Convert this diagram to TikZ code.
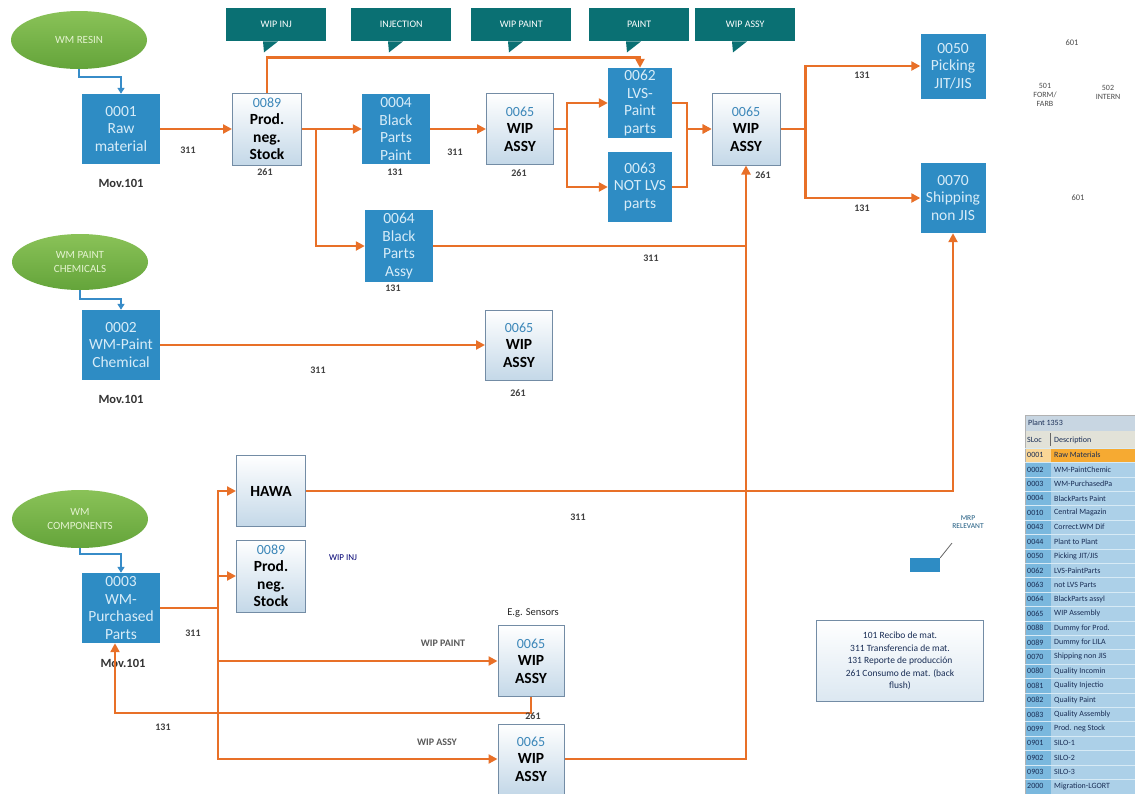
\documentclass[tikz,border=0pt]{standalone}
\usepackage{fontspec}
\setmainfont{Carlito}
\usetikzlibrary{arrows.meta,shapes.geometric}
\definecolor{cbox}{RGB}{46,140,196}
\definecolor{cboxtxt}{RGB}{215,236,248}
\definecolor{cwipline}{RGB}{115,140,165}
\definecolor{cwipfill}{RGB}{196,216,232}
\definecolor{ccode}{RGB}{60,135,185}
\definecolor{cgreen}{RGB}{100,164,58}
\definecolor{cgreenhi}{RGB}{138,194,88}
\definecolor{cwmtxt}{RGB}{228,243,208}
\definecolor{corange}{RGB}{232,112,40}
\definecolor{cfeed}{RGB}{55,140,200}
\definecolor{cteal}{RGB}{10,112,115}
\definecolor{tsloc}{RGB}{122,184,222}
\definecolor{tdesc}{RGB}{172,208,232}
\definecolor{thead}{RGB}{200,214,226}
\definecolor{tcol}{RGB}{226,226,216}
\definecolor{trow}{RGB}{246,170,50}
\definecolor{trowl}{RGB}{250,214,150}
\definecolor{ctxt}{RGB}{25,45,85}
\tikzset{
  dims/.style 2 args={minimum width=#1pt,minimum height=#2pt},
  sloc/.style={rectangle,fill=cbox,text=cboxtxt,align=center,inner sep=0pt,
    font=\fontsize{15.5}{17.5}\selectfont},
  wip/.style={rectangle,draw=cwipline,line width=1pt,top color=white,bottom color=cwipfill,
    align=center,inner sep=0pt,font=\fontsize{15.5}{17.5}\selectfont\bfseries},
  wm/.style={ellipse,top color=cgreenhi,bottom color=cgreen,text=cwmtxt,align=center,
    inner sep=0pt,dims={136}{58},font=\fontsize{11}{14}\selectfont},
  flow/.style={draw=corange,line width=2.4pt,-{Triangle[length=9pt,width=9pt]}},
  link/.style={draw=corange,line width=2.4pt},
  feed/.style={draw=cfeed,line width=1.6pt,-{Triangle[length=6pt,width=7pt]}},
  num/.style={font=\fontsize{10}{11}\selectfont\bfseries,text=black!75},
  mov/.style={font=\fontsize{12.5}{14}\selectfont\bfseries,text=black!80},
  note/.style={font=\fontsize{8.5}{10}\selectfont,text=black!70,align=center},
  callout/.style={fill=cteal,text=white,dims={100}{33},font=\fontsize{10}{12}\selectfont},
  tcell/.style={anchor=west,inner sep=0pt,text=ctxt,font=\fontsize{8}{9}\selectfont}
}
\newcommand{\code}[1]{{\mdseries\color{ccode}\fontsize{14}{15}\selectfont #1}}

\begin{document}
\begin{tikzpicture}[x=1pt,y=-1pt]
  \path[use as bounding box,clip] (0,0) rectangle (1135,793);
  \fill[white] (0,0) rectangle (1135,793);

  % stage callouts
  \foreach \x/\t [count=\i] in {226/WIP INJ,351/INJECTION,471/WIP PAINT,589/PAINT,695/WIP ASSY} {
    \node[callout,anchor=north west] (tag\i) at (\x,8) {\t};
    \fill[cteal] ([xshift=37pt]tag\i.south west) -- ++(15,0) -- ++(-14,11) -- cycle;
  }

  % sources
  \node[wm] (eResin) at (79,40) {WM RESIN};
  \node[wm,dims={136}{56}] (eChem) at (80,262) {WM PAINT\\CHEMICALS};
  \node[wm] (eComp) at (80,519) {WM\\COMPONENTS};

  \node[sloc,dims={78}{70}] (b0001) at (121,129) {0001\\Raw\\material};
  \node[sloc,dims={78}{70}] (b0002) at (121,345) {0002\\WM-Paint\\Chemical};
  \node[sloc,dims={78}{70}] (b0003) at (121,608) {0003\\WM-\\Purchased\\Parts};
  \node[mov] (mov1) at (121,183) {Mov.101};
  \node[mov] (mov2) at (121,399) {Mov.101};
  \node[mov] (mov3) at (123,663) {Mov.101};

  % storage locations
  \node[wip,dims={69}{72}] (w0089) at (267,129) {\code{0089}\\Prod.\\neg.\\Stock};
  \node[sloc,dims={68}{70}] (b0004) at (396,129) {0004\\Black\\Parts\\Paint};
  \node[sloc,dims={68}{72}] (b0064) at (399,246) {0064\\Black\\Parts\\Assy};
  \node[wip,dims={67}{71}] (w0065a) at (520,129) {\code{0065}\\WIP\\ASSY};
  \node[sloc,dims={64}{70}] (b0062) at (640,103) {0062\\LVS-\\Paint\\parts};
  \node[sloc,dims={64}{70}] (b0063) at (640,187) {0063\\NOT LVS\\parts};
  \node[wip,dims={68}{72}] (w0065b) at (746,129) {\code{0065}\\WIP\\ASSY};
  \node[sloc,dims={65}{65}] (b0050) at (953,66) {0050\\Picking\\JIT/JIS};
  \node[sloc,dims={65}{70}] (b0070) at (953,198) {0070\\Shipping\\non JIS};
  \node[wip,dims={67}{70}] (w0065c) at (519,345) {\code{0065}\\WIP\\ASSY};
  \node[wip,dims={69}{71}] (hawa) at (271,491) {HAWA};
  \node[wip,dims={69}{72}] (w0089b) at (271,576) {\code{0089}\\Prod.\\neg.\\Stock};
  \node[wip,dims={66}{71}] (w0065d) at (531,661) {\code{0065}\\WIP\\ASSY};
  \node[wip,dims={66}{70}] (w0065e) at (531,759) {\code{0065}\\WIP\\ASSY};

  % material flow
  \draw[feed] (eResin.south) -- ++(0,8) -| (b0001.north);
  \draw[feed] (eChem.south) -- ++(0,9) -| (b0002.north);
  \draw[feed] (eComp.south) -- ++(0,6) -| (b0003.north);
  \draw[flow] (b0001.east) -- (w0089.west);
  \draw[flow] (w0089.north) -- ++(0,-35) -| (b0062.north);
  \draw[flow] (w0089.east) -- (b0004.west);
  \draw[flow] (w0089.east) -- ++(14,0) |- (b0064.west);
  \draw[flow] (b0004.east) -- (w0065a.west);
  \draw[flow] (w0065a.east) -- ++(13,0) |- (b0062.west);
  \draw[flow] (w0065a.east) -- ++(13,0) |- (b0063.west);
  \draw[flow] (b0062.east) -- ++(15,0) |- (w0065b.west);
  \draw[flow] (b0063.east) -- ++(15,0) |- (w0065b.west);
  \draw[flow] (w0065b.east) -- ++(25,0) |- (b0050.west);
  \draw[flow] (w0065b.east) -- ++(25,0) |- (b0070.west);
  \draw[link] (b0064.east) -- (b0064.east -| w0065b.south);
  \draw[flow] (b0002.east) -- (w0065c.west);
  \draw[flow] (hawa.east) -| (b0070.south);
  \draw[flow] (b0003.east) -- ++(58,0) |- (hawa.west);
  \draw[flow] (b0003.east) -- ++(58,0) |- (w0089b.west);
  \draw[flow] (b0003.east) -- ++(58,0) |- (w0065d.west);
  \draw[flow] (b0003.east) -- ++(58,0) |- (w0065e.west);
  \draw[flow] (w0065d.south) -- ++(0,16) -| ([xshift=-6pt]b0003.south);
  \draw[flow] (w0065e.east) -| (w0065b.south);

  % movement types
  \node[num] (m1) at (188,150) {311};
  \node[num] (m2) at (265,172) {261};
  \node[num] (m3) at (395,172) {131};
  \node[num] (m4) at (455,152) {311};
  \node[num] (m5) at (519,173) {261};
  \node[num] (m6) at (763,175) {261};
  \node[num] (m7) at (393,288) {131};
  \node[num] (m8) at (651,258) {311};
  \node[num] (m9) at (862,75) {131};
  \node[num] (m10) at (862,208) {131};
  \node[num] (m11) at (318,370) {311};
  \node[num] (m12) at (518,393) {261};
  \node[num] (m13) at (578,517) {311};
  \node[num] (m14) at (193,633) {311};
  \node[num] (m15) at (163,727) {131};
  \node[num] (m16) at (533,716) {261};
  \node[note,font=\fontsize{9}{10}\selectfont,text=black!55!blue] (wipinj) at (343,558) {WIP INJ};
  \node[note,font=\fontsize{10.5}{12}\selectfont,text=black!85] (sens) at (533,613) {E.g. Sensors};
  \node[note,font=\fontsize{10}{11}\selectfont\bfseries,text=black!65] (wippaint) at (443,643) {WIP PAINT};
  \node[note,font=\fontsize{10}{11}\selectfont\bfseries,text=black!65] (wipassy) at (437,742) {WIP ASSY};
  \node[note] (g601a) at (1072,43) {601};
  \node[note,font=\fontsize{8}{9}\selectfont] (g501) at (1045,95) {501\\FORM/\\FARB};
  \node[note,font=\fontsize{8}{9}\selectfont] (g502) at (1108,92) {502\\INTERN};
  \node[note] (g601b) at (1078,198) {601};

  % MRP marker and key
  \node[fill=cbox,dims={30}{14},inner sep=0pt] (mrp) at (925,565) {};
  \node[note,font=\fontsize{7.5}{8.5}\selectfont,text=black!35!cbox] (mrptxt) at (968,522) {MRP\\RELEVANT};
  \coordinate (mrptip) at (952,543);
  \draw[black!60,line width=0.8pt] (mrp.north east) -- (mrptip);
  \node[draw=cwipline,line width=1pt,top color=white,bottom color=cwipfill!60,dims={167}{81},
    align=center,inner sep=2pt,text=ctxt,font=\fontsize{9.5}{12.5}\selectfont] (key) at (900,661)
    {101 Recibo de mat.\\311 Transferencia de mat.\\131 Reporte de producción\\261 Consumo de mat. (back\\flush)};

  % storage location table
  \fill[thead] (1025,415) rectangle (1140,431);
  \fill[tcol] (1025,431) rectangle (1140,448);
  \fill[tsloc] (1025,448) rectangle (1051,800);
  \fill[tdesc] (1051,448) rectangle (1140,800);
  \fill[trowl] (1025,448) rectangle (1051,462.4);
  \fill[trow] (1051,448) rectangle (1140,462.4);
  \draw[black!30,line width=0.6pt] (1025,415) rectangle (1140,800);
  \draw[black!60,line width=0.8pt] (1050,433) -- (1050,446);
  \node[tcell] (thead) at (1028,423) {Plant 1353};
  \node[tcell] (tsl) at (1027,440) {SLoc};
  \node[tcell] (tds) at (1054,440) {Description};
  \foreach \s/\d [count=\i from 0] in {0001/Raw Materials,0002/WM-PaintChemic,0003/WM-PurchasedPa,
      0004/BlackParts Paint,0010/Central Magazin,0043/Correct.WM Dif,0044/Plant to Plant,
      0050/{Picking JIT/JIS},0062/LVS-PaintParts,0063/not LVS Parts,0064/BlackParts assyl,
      0065/WIP Assembly,0088/Dummy for Prod.,0089/Dummy for LILA,0070/Shipping non JIS,
      0080/Quality Incomin,0081/Quality Injectio,0082/Quality Paint,0083/Quality Assembly,
      0099/Prod. neg Stock,0901/SILO-1,0902/SILO-2,0903/SILO-3,2000/Migration-LGORT} {
    \draw[white!70!tsloc,line width=0.4pt] (1025,448+14.4*\i) -- (1140,448+14.4*\i);
    \node[tcell] (s\i) at (1027,455.2+14.4*\i) {\s};
    \node[tcell] (d\i) at (1054,455.2+14.4*\i) {\d};
  }
\end{tikzpicture}
\end{document}
